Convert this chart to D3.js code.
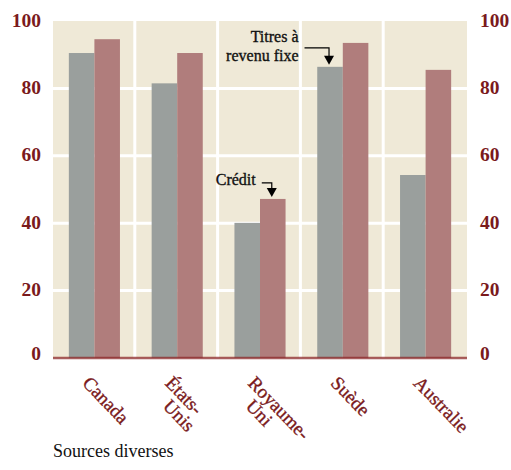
<!DOCTYPE html>
<html>
<head>
<meta charset="utf-8">
<script src="https://cdn.jsdelivr.net/npm/d3@7"></script>
<style>
  html, body { margin: 0; padding: 0; background: #ffffff; }
  svg { display: block; }
</style>
</head>
<body>
<svg id="chart" width="511" height="470"></svg>
<script>
// Categories (label lines for the rotated axis text)
const categories = ["Canada", "États-Unis", "Royaume-Uni", "Suède", "Australie"];
const categoryLines = [["Canada"], ["États-", "Unis"], ["Royaume-", "Uni"], ["Suède"], ["Australie"]];
// Two series per country
const seriesKeys = ["titres", "credit"];
const titresValues = [90.5, 81.5, 40.1, 86.4, 54.3];
const creditValues = [94.6, 90.5, 47.2, 93.5, 85.5];
const yTicks = [0, 20, 40, 60, 80, 100];
const sourceText = "Sources diverses";

const rows = categories.map((c, i) => ({ cat: c, titres: titresValues[i], credit: creditValues[i] }));

const svg = d3.select("#chart");
const plotLeft = 53, plotRight = 467, plotTop = 21, plotBottom = 358;

const x = d3.scaleBand().domain(categories).range([plotLeft, plotRight]).paddingInner(0).paddingOuter(0);
const xs = d3.scaleBand().domain(seriesKeys).range([0, x.bandwidth()]).paddingInner(0).paddingOuter(0.62);
const y = d3.scaleLinear().domain([0, 100]).range([plotBottom, plotTop]);

const colors = { titres: "#9a9f9d", credit: "#b07d7c" };
const darkRed = "#7a1a1c";
const serif = "'Liberation Serif', 'Times New Roman', serif";

// Plot background
svg.append("rect")
  .attr("x", plotLeft).attr("y", plotTop)
  .attr("width", plotRight - plotLeft).attr("height", plotBottom - plotTop)
  .attr("fill", "#efe9d7");

// Horizontal white grid
svg.append("g").selectAll("line")
  .data(yTicks.filter(t => t > 0 && t < 100))
  .join("line")
  .attr("x1", plotLeft).attr("x2", plotRight)
  .attr("y1", d => y(d)).attr("y2", d => y(d))
  .attr("stroke", "#ffffff").attr("stroke-width", 3);

// Vertical white separators between countries
svg.append("g").selectAll("line")
  .data(categories.slice(1))
  .join("line")
  .attr("x1", d => x(d) - 1).attr("x2", d => x(d) - 1)
  .attr("y1", plotTop).attr("y2", plotBottom)
  .attr("stroke", "#ffffff").attr("stroke-width", 3);

// Bars
const groups = svg.append("g").selectAll("g")
  .data(rows)
  .join("g")
  .attr("transform", d => `translate(${x(d.cat)},0)`);

groups.selectAll("rect")
  .data(d => seriesKeys.map(k => ({ key: k, value: d[k] })))
  .join("rect")
  .attr("x", d => xs(d.key))
  .attr("width", xs.bandwidth())
  .attr("y", d => y(d.value))
  .attr("height", d => y(0) - y(d.value))
  .attr("fill", d => colors[d.key]);

// Baseline
svg.append("line")
  .attr("x1", plotLeft).attr("x2", plotRight)
  .attr("y1", y(0)).attr("y2", y(0))
  .attr("stroke", "rgba(140,40,42,0.75)").attr("stroke-width", 2.5);

// Left and right value axes
const yAxisLeft = d3.axisLeft(y).tickValues(yTicks).tickSize(0).tickPadding(0);
const yAxisRight = d3.axisRight(y).tickValues(yTicks).tickSize(0).tickPadding(0);

function styleAxis(g) {
  g.select(".domain").remove();
  g.selectAll("text")
    .attr("fill", darkRed)
    .attr("font-family", serif)
    .attr("font-weight", "bold")
    .attr("font-size", 19.5)
    .attr("dy", d => d === 0 ? "0.1em" : "0.26em");
}
svg.append("g").attr("transform", `translate(41,0)`).call(yAxisLeft).call(styleAxis);
svg.append("g").attr("transform", `translate(480,0)`).call(yAxisRight).call(styleAxis)
  .selectAll("text").attr("text-anchor", "start");

// Rotated country labels
const labels = svg.append("g").selectAll("text")
  .data(categories)
  .join("text")
  .attr("transform", (d) => `translate(${x(d) + x.bandwidth() / 2 - 13},384) rotate(46)`)
  .attr("fill", darkRed)
  .attr("stroke", darkRed).attr("stroke-width", 0.35)
  .attr("font-family", serif)
  .attr("font-size", 19);

labels.each(function (d, i) {
  const t = d3.select(this);
  categoryLines[i].forEach((line, j) => {
    t.append("tspan")
      .attr("x", j === 0 ? 0 : 15)
      .attr("y", j * 17.5)
      .text(line);
  });
});

// Callouts
function callout(cat, key, value, lines, run, drop) {
  const tipX = x(cat) + xs(key) + xs.bandwidth() / 2 - 1;
  const tipY = y(value) - 2;
  const barY = tipY - 9 - drop;
  const startX = tipX - run;
  const g = svg.append("g");
  g.append("path")
    .attr("d", `M${startX},${barY}H${tipX}V${tipY - 8}`)
    .attr("fill", "none").attr("stroke", "#000").attr("stroke-width", 1.2);
  g.append("path")
    .attr("d", `M${tipX - 5},${tipY - 9}L${tipX + 5},${tipY - 9}L${tipX},${tipY}Z`)
    .attr("fill", "#000");
  const txt = g.append("text")
    .attr("text-anchor", "end")
    .attr("font-family", serif)
    .attr("font-size", 16)
    .attr("fill", "#111")
    .attr("stroke", "#111").attr("stroke-width", 0.35);
  const firstBase = lines.length > 1 ? barY - 5.6 : barY + 2.3;
  lines.forEach((line, j) => {
    txt.append("tspan").attr("x", startX - 6).attr("y", firstBase + j * 18.4).text(line);
  });
}
callout("Suède", "titres", titresValues[3], ["Titres à", "revenu fixe"], 24.5, 8);
callout("Royaume-Uni", "credit", creditValues[2], ["Crédit"], 10, 5);

// Source note
svg.append("text")
  .attr("x", plotLeft).attr("y", 457)
  .attr("font-family", serif)
  .attr("font-size", 18)
  .attr("fill", "#111")
  .text(sourceText);
</script>
</body>
</html>
